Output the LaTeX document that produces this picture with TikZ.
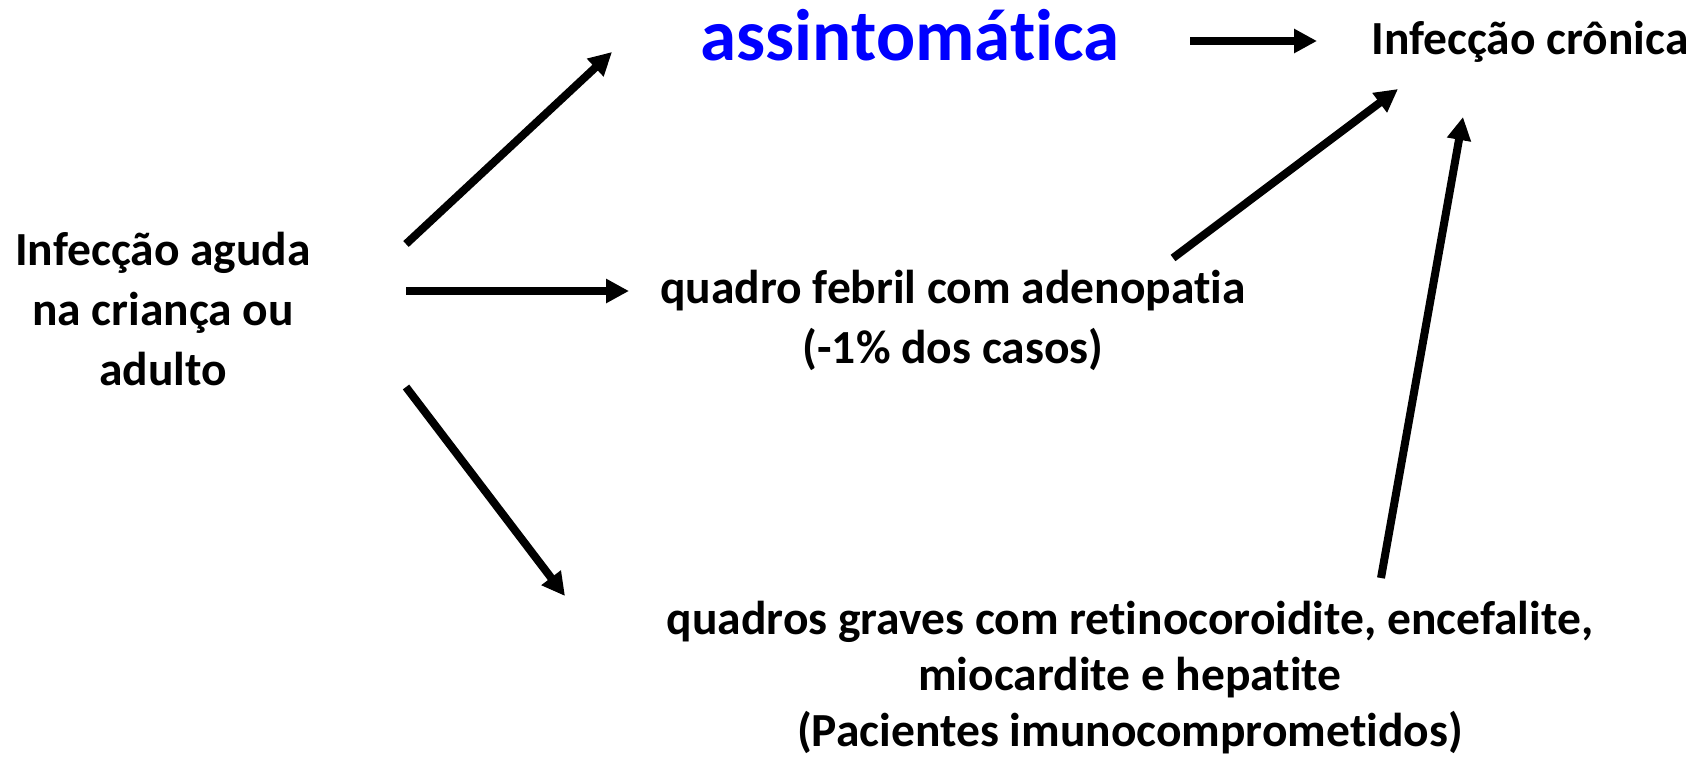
\documentclass[tikz,border=0pt]{standalone}
\usepackage{fontspec}
\setmainfont[Ligatures={TeX,NoCommon}]{Carlito}
\usepackage{tikz}
\usetikzlibrary{arrows.meta}
\definecolor{ASBlue}{RGB}{0,0,255}

\begin{document}
\begin{tikzpicture}[x=1pt, y=-1pt,
          lbl/.style={font=\fontsize{47.5}{60}\selectfont\bfseries,
                      align=center, inner sep=0pt},
          arr/.style={-{Triangle[length=23pt, width=23pt]}, line width=8pt}
        ]
        \useasboundingbox (0,0) rectangle (1699,758);

        % base = baseline of the last line
        \node[lbl, anchor=base] (aguda) at (163,385)
              {Infecção aguda\\na criança ou\\adulto};
        \node[lbl, font=\fontsize{73}{80}\selectfont\bfseries, text=ASBlue,
              anchor=base] (assint) at (910,60) {assintomática};
        \node[lbl, anchor=base] (cronica) at (1530,54) {Infecção crônica};
        \node[lbl, anchor=base] (febril) at (953,363)
              {quadro febril com adenopatia\\(-1\% dos casos)};
        \node[lbl, font=\fontsize{47.5}{56}\selectfont\bfseries, anchor=base]
              (graves) at (1130,746)
              {quadros graves com retinocoroidite, encefalite,\\
               miocardite e hepatite\\(Pacientes imunocomprometidos)};

        % arrow ends
        \coordinate (a1s) at (406,244);  \coordinate (a1e) at (612,52);
        \coordinate (a2s) at (406,291);  \coordinate (a2e) at (629,291);
        \coordinate (a3s) at (406,387);  \coordinate (a3e) at (565,596);
        \coordinate (a4s) at (1190,41);  \coordinate (a4e) at (1317,41);
        \coordinate (a5s) at (1173,258); \coordinate (a5e) at (1398,89);
        \coordinate (a6s) at (1381,578); \coordinate (a6e) at (1463,117);

        \draw[arr] (a1s) -- (a1e);
        \draw[arr] (a2s) -- (a2e);
        \draw[arr] (a3s) -- (a3e);
        \draw[arr] (a4s) -- (a4e);
        \draw[arr] (a5s) -- (a5e);
        \draw[arr] (a6s) -- (a6e);
      \end{tikzpicture}
\end{document}
